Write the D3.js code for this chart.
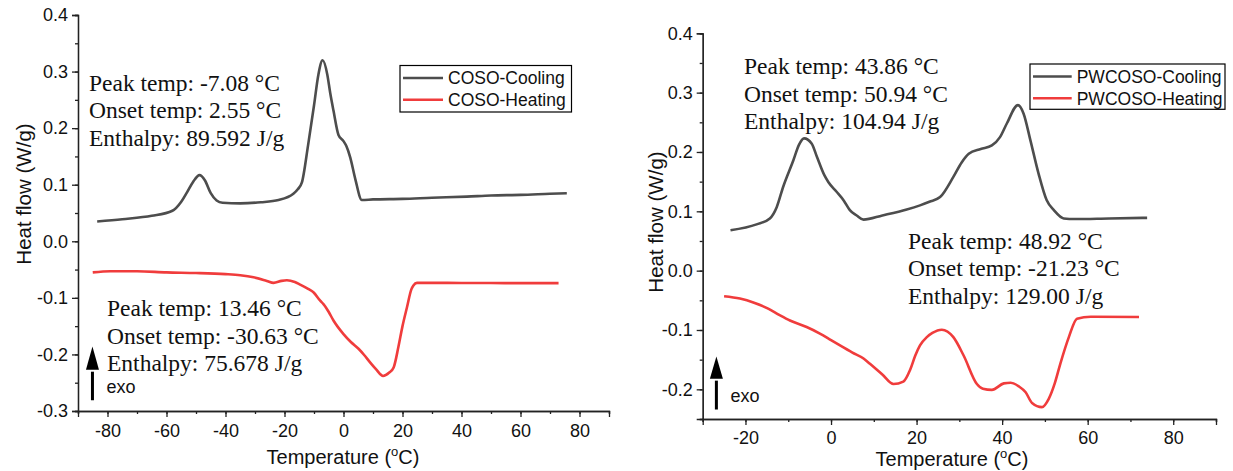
<!DOCTYPE html>
<html><head><meta charset="utf-8">
<script src="https://cdn.jsdelivr.net/npm/d3@7"></script>
<style>body{margin:0;background:#fff}svg{display:block}</style>
</head><body><svg id="c" width="1233" height="471"></svg>
<script>
// ---- data ----
const cosoCoolT = [-83.5,-75,-65,-58,-55,-53,-51,-48.8,-47,-45,-43,-41,-35,-28,-22,-17,-15.5,-14.1,-12,-10,-8.5,-7.08,-5.5,-4.5,-3.4,-1.7,0,1,2.3,4,6.2,10,20,30,41.8,50,60,70,75.7];
const cosoCoolV = [0.035,0.039,0.045,0.054,0.07,0.087,0.105,0.117,0.108,0.085,0.072,0.068,0.067,0.069,0.073,0.084,0.092,0.104,0.17,0.24,0.295,0.32,0.295,0.262,0.231,0.188,0.177,0.168,0.148,0.11,0.073,0.074,0.075,0.077,0.079,0.081,0.082,0.084,0.085];
const cosoHeatT = [-85,-79,-70,-60,-50,-40,-35,-30.5,-26,-23.7,-21,-19.2,-16.5,-14.7,-12,-10.2,-7.9,-6.8,-5,-3.4,0,2.5,5.1,7,9,11,13.4,15.5,17,18.6,20,21.5,23,23.7,24.9,30,40,50,60,72.9];
const cosoHeatV = [-0.055,-0.053,-0.053,-0.055,-0.056,-0.058,-0.060,-0.0636,-0.070,-0.0735,-0.070,-0.069,-0.072,-0.0765,-0.084,-0.09,-0.105,-0.111,-0.125,-0.140,-0.164,-0.178,-0.190,-0.201,-0.214,-0.226,-0.238,-0.232,-0.223,-0.187,-0.150,-0.117,-0.085,-0.078,-0.0735,-0.0735,-0.0737,-0.0738,-0.074,-0.074];
const pwCoolT = [-23.5,-17.4,-14.3,-12.7,-11.2,-8.8,-7.5,-6.3,-4.5,-3.3,-1.5,-0.6,1.3,3,4.4,6,7.6,12,17.7,20.8,23,25.5,28.6,30.5,32.2,35,37.6,39.5,41.1,43.7,45,46.6,48.5,50.4,52.1,54.4,57,65,73.9];
const pwCoolV = [0.068,0.078,0.088,0.107,0.141,0.186,0.212,0.223,0.214,0.192,0.16,0.149,0.133,0.118,0.102,0.093,0.086,0.093,0.103,0.110,0.116,0.124,0.158,0.182,0.197,0.205,0.211,0.225,0.248,0.279,0.265,0.220,0.164,0.119,0.102,0.088,0.087,0.088,0.089];
const pwHeatT = [-25,-21.3,-18,-14.7,-12,-9.6,-5.7,-2.6,0,2.1,5,7.6,9.1,12,14.6,16.9,18.5,19.7,20.8,22.4,23.7,25.9,28.6,31,34.1,35.5,37.6,40.4,42,43.9,45.5,47,49.3,50.9,52.3,53.6,55.6,57.5,60.7,72];
const pwHeatV = [-0.043,-0.047,-0.054,-0.064,-0.075,-0.084,-0.095,-0.106,-0.117,-0.126,-0.138,-0.148,-0.157,-0.175,-0.191,-0.187,-0.167,-0.143,-0.126,-0.112,-0.105,-0.0995,-0.112,-0.143,-0.191,-0.199,-0.201,-0.190,-0.189,-0.195,-0.205,-0.223,-0.230,-0.216,-0.19,-0.157,-0.112,-0.081,-0.0776,-0.078];
const xTicksL = [-80,-60,-40,-20,0,20,40,60,80];
const yTicksL = [0.4,0.3,0.2,0.1,0.0,-0.1,-0.2,-0.3];
const xTicksR = [-20,0,20,40,60,80];
const yTicksR = [0.4,0.3,0.2,0.1,0.0,-0.1,-0.2];
const legendL = ["COSO-Cooling","COSO-Heating"];
const legendR = ["PWCOSO-Cooling","PWCOSO-Heating"];
const annL1 = ["Peak temp: -7.08 °C","Onset temp: 2.55 °C","Enthalpy: 89.592 J/g"];
const annL2 = ["Peak temp: 13.46 °C","Onset temp: -30.63 °C","Enthalpy: 75.678 J/g"];
const annR1 = ["Peak temp: 43.86 °C","Onset temp: 50.94 °C","Enthalpy: 104.94 J/g"];
const annR2 = ["Peak temp: 48.92 °C","Onset temp: -21.23 °C","Enthalpy: 129.00 J/g"];

const GREY = "#4d4d4d", RED = "#f03c3c", AX = "#222";
const SANS = "Liberation Sans, Arial, sans-serif", SERIF = "Liberation Serif, Times New Roman, serif";
const svg = d3.select("#c");
svg.append("rect").attr("width",1233).attr("height",471).attr("fill","#fff");
const hy = s => s.replace(/\u2212/g,"-");

function panel(o){
  const x = d3.scaleLinear().domain(o.xd).range([o.x0,o.x1]);
  const y = d3.scaleLinear().domain(o.yd).range([o.y1,o.y0]);
  const g = svg.append("g");
  const xa = d3.axisBottom(x).tickValues(o.xt).tickSize(6).tickFormat(d=>hy(d3.format("d")(d)));
  const xm = d3.axisBottom(x).tickValues(d3.range(o.xd[0],o.xd[1]+0.1,10)).tickSize(3).tickFormat("");
  const ya = d3.axisLeft(y).tickValues(o.yt).tickSize(6).tickFormat(d=>hy(d3.format(".1f")(d)));
  const ym = d3.axisLeft(y).tickValues(d3.range(o.yd[0],o.yd[1]+0.001,0.05)).tickSize(3).tickFormat("");
  [[xm,"b"],[xa,"b"],[ym,"l"],[ya,"l"]].forEach(([ax,s])=>{
    const a = g.append("g").attr("transform", s==="b"?`translate(0,${o.y1})`:`translate(${o.x0},0)`).call(ax);
    a.selectAll("path,line").attr("stroke",AX).attr("stroke-width",1.3);
    a.selectAll("text").attr("fill","#111").attr("font-family",SANS).attr("font-size",18);
    if(s==="b") a.selectAll("text").attr("y",8).attr("dy",o.xdy); else a.selectAll("text").attr("x",-10);
  });
  const xt = g.append("text").attr("x",o.xtx).attr("y",o.xty).attr("text-anchor","middle")
    .attr("font-family",SANS).attr("font-size",20).attr("fill","#111");
  xt.append("tspan").text("Temperature (");
  xt.append("tspan").text("o").attr("font-size",13).attr("dy",-8);
  xt.append("tspan").text("C)").attr("dy",8);
  g.append("text").attr("transform",`translate(${o.ytx},${o.yty}) rotate(-90)`).attr("text-anchor","middle")
    .attr("font-family",SANS).attr("font-size",20.5).attr("fill","#111").text("Heat flow (W/g)");
  const line = d3.line().x(d=>x(d[0])).y(d=>y(d[1])).curve(d3.curveMonotoneX);
  g.append("path").datum(d3.zip(o.ht,o.hv)).attr("d",line).attr("fill","none").attr("stroke",RED).attr("stroke-width",2.6);
  g.append("path").datum(d3.zip(o.ct,o.cv)).attr("d",line).attr("fill","none").attr("stroke",GREY).attr("stroke-width",2.6);
  [[o.a1,o.a1x,o.a1y],[o.a2,o.a2x,o.a2y]].forEach(([arr,ax,ay])=>{
    arr.forEach((t,i)=>g.append("text").attr("x",ax).attr("y",ay+i*27.5)
      .attr("font-family",SERIF).attr("font-size",23.5).attr("fill","#111").text(t));
  });
  const L = o.leg;
  g.append("rect").attr("x",L.x).attr("y",L.y).attr("width",L.w).attr("height",L.h).attr("fill","#fff").attr("stroke","#000").attr("stroke-width",1.2);
  [[o.ln[0],GREY],[o.ln[1],RED]].forEach(([t,c],i)=>{
    const yy = L.y + 12.5 + i*21.7;
    g.append("line").attr("x1",L.x+3).attr("x2",L.x+L.lw).attr("y1",yy).attr("y2",yy).attr("stroke",c).attr("stroke-width",2.6);
    g.append("text").attr("x",L.x+L.lw+5).attr("y",yy+6.3).attr("font-family",SANS)
      .attr("font-size",17.5).attr("fill","#111").text(t);
  });
  const E = o.exo, ax0 = x(E.x), yb = y(E.y0), yt = y(E.y1), yh = y(E.yh);
  g.append("line").attr("x1",ax0).attr("x2",ax0).attr("y1",yb).attr("y2",yh+2).attr("stroke","#000").attr("stroke-width",3);
  g.append("path").attr("d",`M${ax0},${yt}L${ax0-6.5},${yh}L${ax0+6.5},${yh}Z`).attr("fill","#000");
  g.append("text").attr("x",ax0+14).attr("y",yb-7.5).attr("font-family",SANS)
    .attr("font-size",18).attr("fill","#111").text("exo");
}

panel({xd:[-90,90],yd:[-0.3,0.4],x0:78,x1:609,y0:15,y1:411,xt:xTicksL,yt:yTicksL,
  xdy:"1em",xtx:343,xty:464,ytx:31,yty:194,ct:cosoCoolT,cv:cosoCoolV,ht:cosoHeatT,hv:cosoHeatV,
  a1:annL1,a1x:89,a1y:90.5,a2:annL2,a2x:107,a2y:316,
  leg:{x:400,y:65.5,w:171.5,h:46.5,lw:43},ln:legendL,
  exo:{x:-85.1,y0:-0.281,y1:-0.186,yh:-0.227}});
panel({xd:[-30,90],yd:[-0.25,0.4],x0:702.7,x1:1216,y0:33.3,y1:419,xt:xTicksR,yt:yTicksR,
  xdy:"0.92em",xtx:952,xty:466,ytx:663,yty:222,ct:pwCoolT,cv:pwCoolV,ht:pwHeatT,hv:pwHeatV,
  a1:annR1,a1x:744,a1y:74,a2:annR2,a2x:908,a2y:248.5,
  leg:{x:1030,y:64,w:195,h:45.3,lw:41.7},ln:legendR,
  exo:{x:-26.8,y0:-0.234,y1:-0.1445,yh:-0.182}});
</script></body></html>
